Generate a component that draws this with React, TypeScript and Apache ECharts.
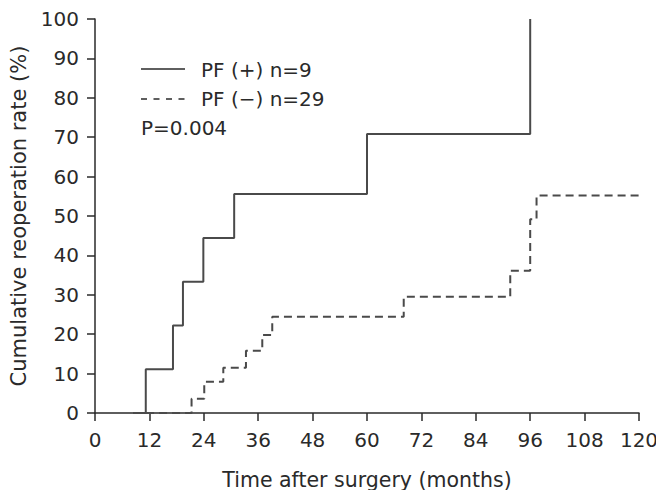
import React, { useEffect, useRef } from "react";
import * as echarts from "echarts";

// Kaplan–Meier style cumulative reoperation curves: [month, cumulative %]
const pfPositive: [number, number][] = [
  [8.4, 0],
  [11.2, 11.1],
  [17.2, 22.2],
  [19.4, 33.3],
  [23.9, 44.4],
  [30.7, 55.6],
  [60, 70.8],
  [96, 100],
];

const pfNegative: [number, number][] = [
  [8.4, 0],
  [21.3, 3.6],
  [24.1, 7.9],
  [28.3, 11.5],
  [33.3, 15.8],
  [36.9, 19.8],
  [39.1, 24.4],
  [68.1, 29.5],
  [91.6, 36.1],
  [96, 49.2],
  [97.4, 55.2],
  [120, 55.2],
];

const seriesNames = ["PF (+) n=9", "PF (\u2212) n=29"];
const pValueText = "P=0.004";
const xTicks = [0, 12, 24, 36, 48, 60, 72, 84, 96, 108, 120];
const yTicks = [0, 10, 20, 30, 40, 50, 60, 70, 80, 90, 100];

const FONT = "DejaVu Sans";
const INK = "#2a2a2a";
const LINE = "#4a4a4a";

export default function App() {
  const ref = useRef<HTMLDivElement>(null);

  useEffect(() => {
    if (!ref.current) return;
    const chart = echarts.init(ref.current, undefined, { renderer: "svg" });

    const axisCommon = {
      axisLine: { show: true, lineStyle: { color: INK, width: 1.5 } },
      axisTick: { show: true, length: 8, lineStyle: { color: INK, width: 1.5 } },
      splitLine: { show: false },
      nameLocation: "middle" as const,
    };

    chart.setOption({
      animation: false,
      backgroundColor: "#ffffff",
      grid: {
        left: 95,
        right: 17,
        top: 19,
        bottom: 77,
        containLabel: false,
        outerBoundsMode: "none",
      },
      xAxis: {
        ...axisCommon,
        type: "value",
        min: xTicks[0],
        max: xTicks[xTicks.length - 1],
        interval: 12,
        name: "Time after surgery (months)",
        nameGap: 56,
        nameTextStyle: { fontFamily: FONT, fontSize: 20.5, color: INK },
        axisLabel: {
          fontFamily: FONT,
          fontSize: 20,
          color: INK,
          margin: 17,
          showMaxLabel: true,
          showMinLabel: true,
        },
      },
      yAxis: {
        ...axisCommon,
        type: "value",
        min: yTicks[0],
        max: yTicks[yTicks.length - 1],
        interval: 10,
        name: "Cumulative reoperation rate (%)",
        nameGap: 66,
        nameTextStyle: { fontFamily: FONT, fontSize: 21, color: INK },
        axisLabel: {
          fontFamily: FONT,
          fontSize: 20,
          color: INK,
          margin: 16,
        },
      },
      series: [
        {
          name: seriesNames[0],
          type: "line",
          step: "end",
          data: pfPositive,
          showSymbol: false,
          lineStyle: { color: LINE, width: 2, type: "solid" },
        },
        {
          name: seriesNames[1],
          type: "line",
          step: "end",
          data: pfNegative,
          showSymbol: false,
          lineStyle: { color: LINE, width: 2, type: [8, 5] },
        },
      ],
      graphic: [
        {
          type: "line",
          shape: { x1: 141, y1: 69, x2: 185, y2: 69 },
          style: { stroke: INK, lineWidth: 1.5 },
        },
        {
          type: "text",
          x: 201,
          y: 70,
          style: {
            text: seriesNames[0],
            fontFamily: FONT,
            fontSize: 20,
            fill: INK,
            verticalAlign: "middle",
          },
        },
        {
          type: "line",
          shape: { x1: 141, y1: 99, x2: 185, y2: 99 },
          style: { stroke: INK, lineWidth: 1.5, lineDash: [6, 6.5] },
        },
        {
          type: "text",
          x: 201,
          y: 99,
          style: {
            text: seriesNames[1],
            fontFamily: FONT,
            fontSize: 20,
            fill: INK,
            verticalAlign: "middle",
          },
        },
        {
          type: "text",
          x: 141,
          y: 128,
          style: {
            text: pValueText,
            fontFamily: FONT,
            fontSize: 20,
            fill: INK,
            verticalAlign: "middle",
          },
        },
      ],
    });

    return () => chart.dispose();
  }, []);

  return <div ref={ref} style={{ width: 656, height: 490, position: "absolute", left: 0, top: 0 }} />;
}
